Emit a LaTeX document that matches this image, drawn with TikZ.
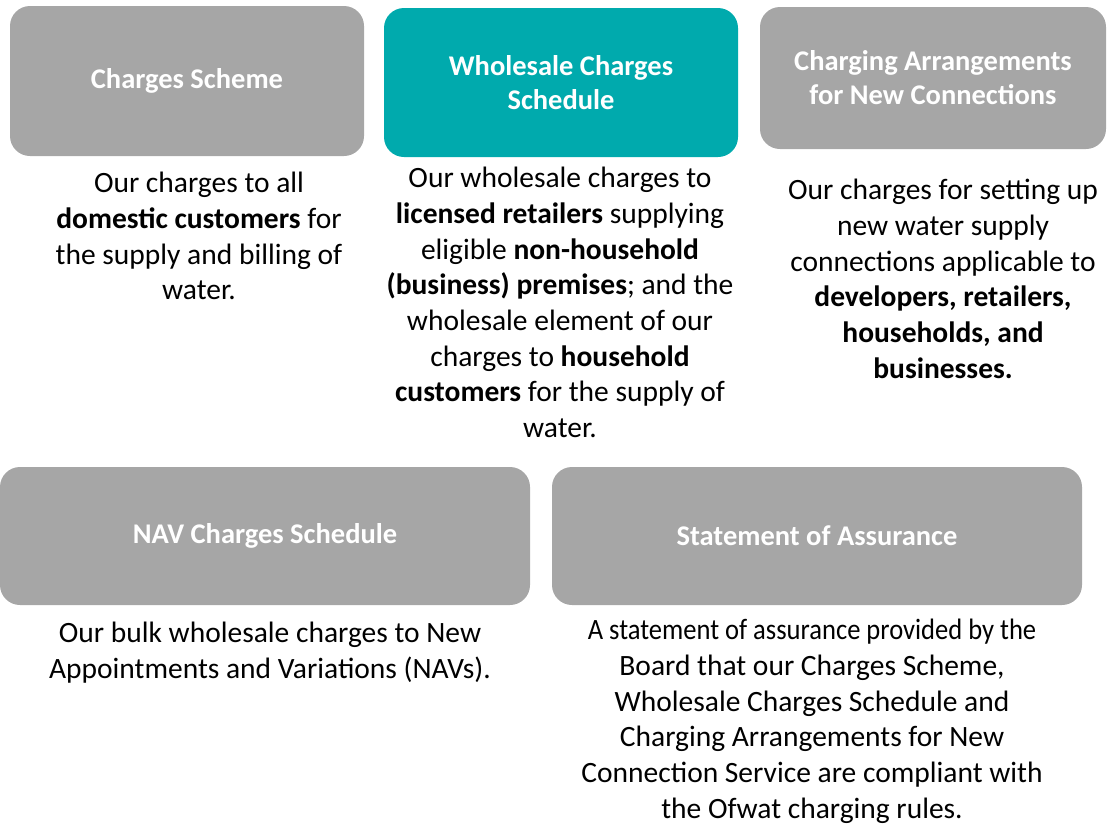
\documentclass[tikz,border=0pt]{standalone}
\usepackage{fontspec}
\setmainfont{Carlito}
\definecolor{boxgray}{HTML}{A6A6A6}
\definecolor{wsteal}{HTML}{00AAAD}

\begin{document}
\begin{tikzpicture}[x=1pt, y=-1pt,
  box/.style={fill=boxgray, rounded corners=20pt, text=white, align=center,
    font=\fontsize{28.5}{34}\selectfont\bfseries},
  body/.style={anchor=north, inner sep=0pt, align=center,
    font=\fontsize{29.5}{35.7}\selectfont}]

\useasboundingbox (0, 0) rectangle (1107, 825);

% Charges Scheme
\node[box, minimum width=354, minimum height=150] (charges) at (187, 81) {Charges Scheme};
\node[body] (chargestext) at (199, 172) {Our charges to all\\
  \textbf{domestic customers} for\\
  the supply and billing of\\
  water.};

% Wholesale Charges Schedule
\node[box, fill=wsteal, minimum width=354, minimum height=149] (wholesale) at (561, 82.5)
  {Wholesale Charges\\Schedule};
\node[body] (wholesaletext) at (560, 167) {Our wholesale charges to\\
  \textbf{licensed retailers} supplying\\
  eligible \textbf{non-household}\\
  \textbf{(business) premises}; and the\\
  wholesale element of our\\
  charges to \textbf{household}\\
  \textbf{customers} for the supply of\\
  water.};

% Charging Arrangements for New Connections
\node[box, minimum width=346, minimum height=142] (connections) at (933, 78)
  {Charging Arrangements\\for New Connections};
\node[body] (connectionstext) at (943, 179) {Our charges for setting up\\
  new water supply\\
  connections applicable to\\
  \textbf{developers, retailers,}\\
  \textbf{households, and}\\
  \textbf{businesses.}};

% NAV Charges Schedule
\node[box, minimum width=530, minimum height=138] (nav) at (265, 536) {NAV Charges Schedule};
\node[body] (navtext) at (270, 622) {Our bulk wholesale charges to New\\
  Appointments and Variations (NAVs).};

% Statement of Assurance
\node[box, minimum width=530, minimum height=138] (assurance) at (817, 536) {Statement of Assurance};
\node[body] (assurancetext) at (812, 619) {\scalebox{0.9}[1]{A statement of assurance provided by the}\\
  Board that our Charges Scheme,\\
  Wholesale Charges Schedule and\\
  Charging Arrangements for New\\
  Connection Service are compliant with\\
  the Ofwat charging rules.};

\end{tikzpicture}
\end{document}
